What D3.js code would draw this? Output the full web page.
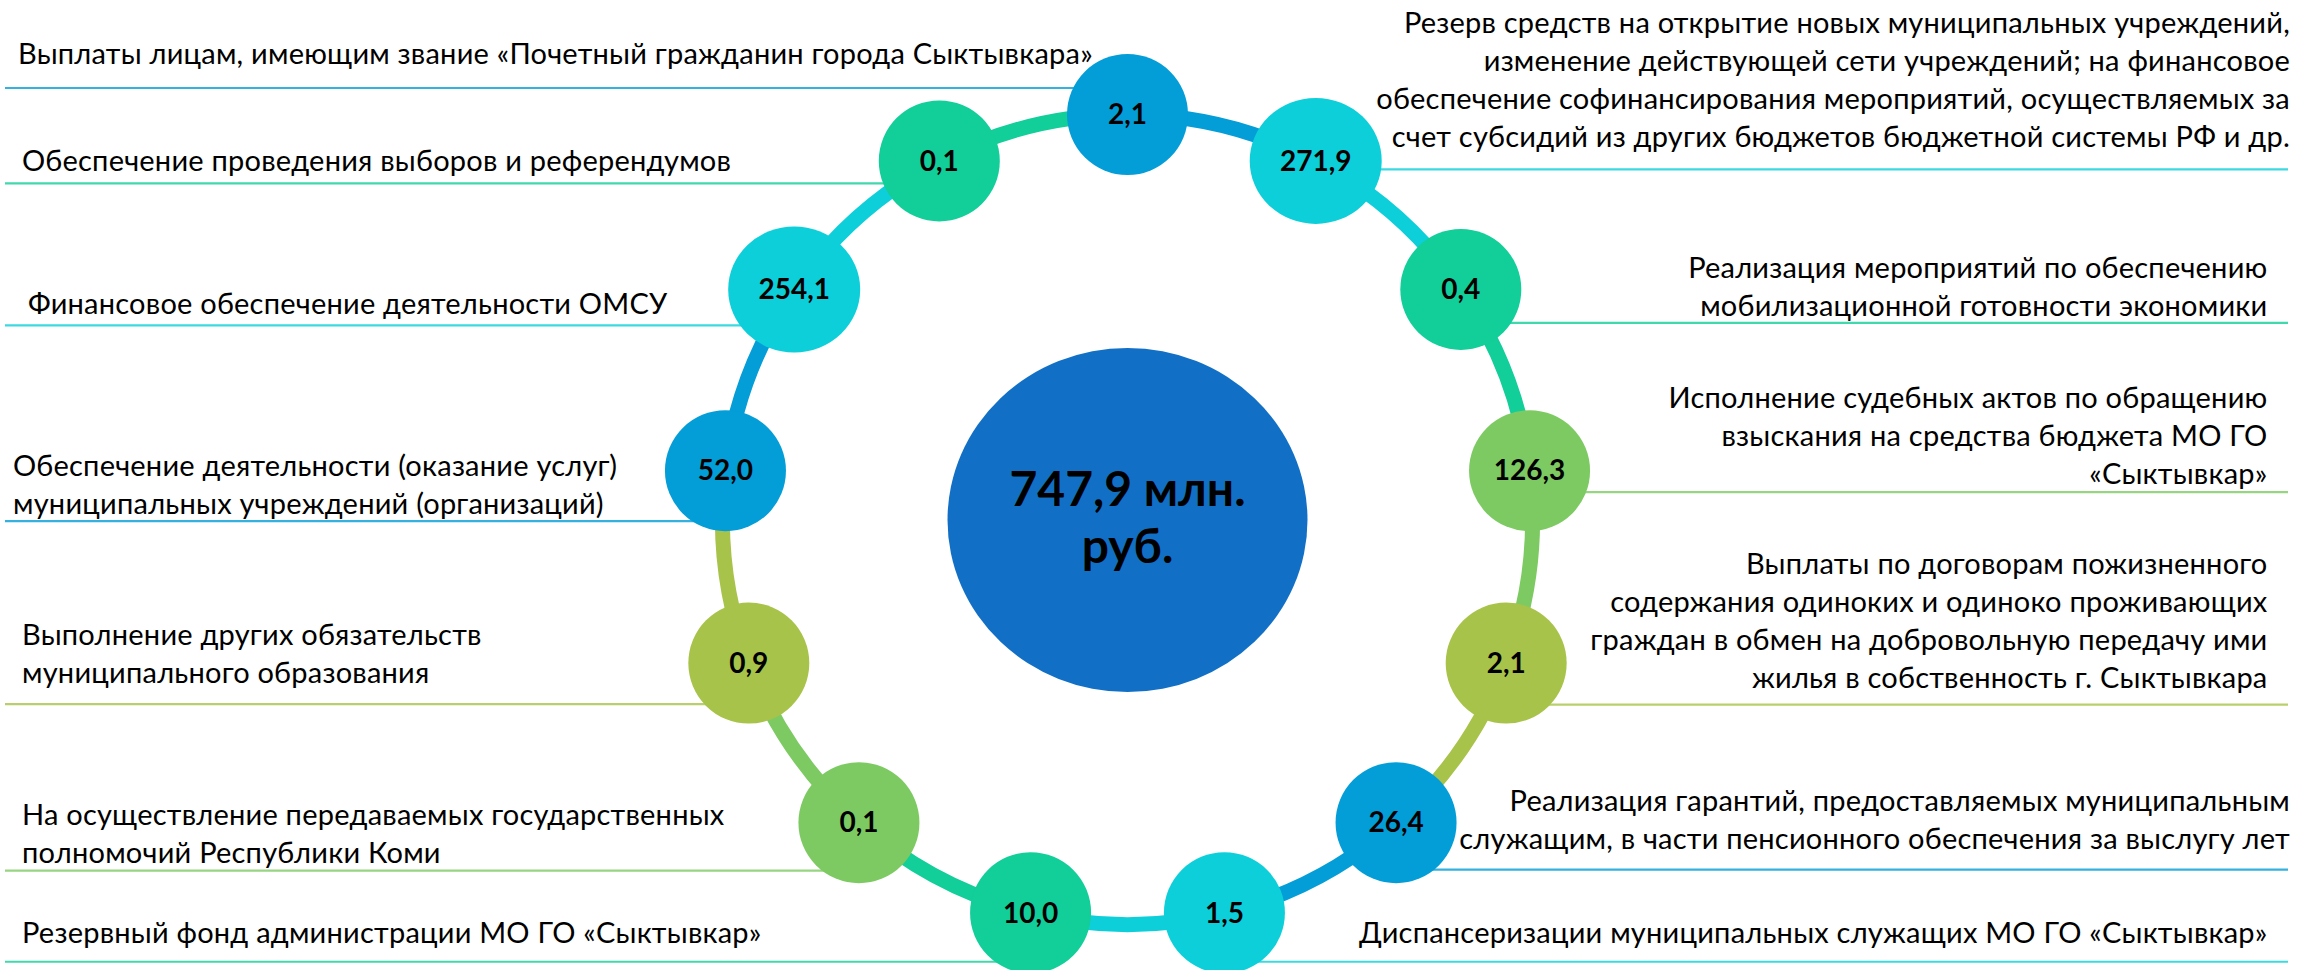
<!DOCTYPE html>
<html lang="ru">
<head>
<meta charset="utf-8">
<script src="https://cdn.jsdelivr.net/npm/d3@7/dist/d3.min.js"></script>
<style>
  html, body { margin: 0; padding: 0; background: #fff; }
  svg { display: block; font-family: Lato, "Open Sans", sans-serif; }
</style>
</head>
<body>
<div id="chart"></div>
<script>
// expense items, clockwise starting from the top node (млн. руб.)
const categories = [
  "Выплаты лицам, имеющим звание «Почетный гражданин города Сыктывкара»",
  "Резерв средств на открытие новых муниципальных учреждений,\nизменение действующей сети учреждений; на финансовое\nобеспечение софинансирования мероприятий, осуществляемых за\nсчет субсидий из других бюджетов бюджетной системы РФ и др.",
  "Реализация мероприятий по обеспечению\nмобилизационной готовности экономики",
  "Исполнение судебных актов по обращению\nвзыскания на средства бюджета МО ГО\n«Сыктывкар»",
  "Выплаты по договорам пожизненного\nсодержания одиноких и одиноко проживающих\nграждан в обмен на добровольную передачу ими\nжилья в собственность г. Сыктывкара",
  "Реализация гарантий, предоставляемых муниципальным\nслужащим, в части пенсионного обеспечения за выслугу лет",
  "Диспансеризации муниципальных служащих МО ГО «Сыктывкар»",
  "Резервный фонд администрации МО ГО «Сыктывкар»",
  "На осуществление передаваемых государственных\nполномочий Республики Коми",
  "Выполнение других обязательств\nмуниципального образования",
  "Обеспечение деятельности (оказание услуг)\nмуниципальных учреждений (организаций)",
  "Финансовое обеспечение деятельности ОМСУ",
  "Обеспечение проведения выборов и референдумов"
];
const values = [2.1, 271.9, 0.4, 126.3, 2.1, 26.4, 1.5, 10.0, 0.1, 0.9, 52.0, 254.1, 0.1];
const totalUnit = ["млн.", "руб."];

// colours repeat round the ring
const palette = ["#039dd8", "#0dcfda", "#12ce99", "#7dca63", "#a8c34a"];
const centerColor = "#1170c6";

const width = 2318, height = 970;
const cx = 1127.5, cy = 519.5, ringR = 405;

// hand placed callouts: [underline offset from node, gap text->underline, inset from page edge]
const labelNudge = [
  [-26.5, 24, 18], [8.5, 22.5, 28], [33.5, 6.5, 50.5], [21.5, 8, 50.5],
  [41.5, 16.5, 50.5], [47, 20.5, 28], [49, 18.5, 50.5], [49, 19, 22],
  [48, 8, 22], [41, 21, 22], [50.5, 7, 13], [36, 11, 28], [22.5, 12, 22]
];
const lineStep = 38;

const ru = d3.formatLocale({ decimal: ",", thousands: "\u00a0", grouping: [3], currency: ["", ""] });
const fmt = ru.format(".1f");

const nodes = values.map((v, i) => ({ i, value: v, label: categories[i] }));
const angle = d3.scaleLinear().domain([0, nodes.length]).range([0, 2 * Math.PI]);
const color = d3.scaleOrdinal().domain(d3.range(palette.length)).range(palette);
const rx = d3.scaleThreshold().domain([200]).range([60.5, 66]);
const ry = d3.scaleThreshold().domain([200]).range([60.5, 63]);

nodes.forEach(d => {
  d.x = cx + ringR * Math.sin(angle(d.i));
  d.y = cy - ringR * Math.cos(angle(d.i));
  d.color = color(d.i % palette.length);
  d.left = d.x <= cx;
});

const svg = d3.select('#chart')
  .append('svg')
  .attr('width', width)
  .attr('height', height);

// underlines of the callouts
svg.append('g')
  .selectAll('line')
  .data(nodes)
  .join('line')
  .attr('x1', d => d.left ? 5 : d.x)
  .attr('x2', d => d.left ? d.x : width - 30)
  .attr('y1', d => d.y + labelNudge[d.i][0])
  .attr('y2', d => d.y + labelNudge[d.i][0])
  .attr('stroke', d => d3.interpolateRgb(d.color, '#fff')(0.2))
  .attr('stroke-width', 2.2);

// callout texts
const labels = svg.append('g')
  .attr('font-size', 29)
  .attr('letter-spacing', 0.22)
  .attr('fill', '#000')
  .selectAll('text')
  .data(nodes)
  .join('text')
  .attr('text-anchor', d => d.left ? 'start' : 'end')
  .attr('x', d => d.left ? labelNudge[d.i][2] : width - labelNudge[d.i][2]);

labels.each(function (d) {
  const rows = d.label.split('\n');
  const last = d.y + labelNudge[d.i][0] - labelNudge[d.i][1];
  d3.select(this).selectAll('tspan')
    .data(rows)
    .join('tspan')
    .attr('x', d.left ? labelNudge[d.i][2] : width - labelNudge[d.i][2])
    .attr('y', (r, k) => last - (rows.length - 1 - k) * lineStep)
    .text(r => r);
});

// ring segments, each takes the colour of the node it leaves from
const arc = d3.arc()
  .innerRadius(ringR - 7.5)
  .outerRadius(ringR + 7.5)
  .startAngle(d => angle(d.i))
  .endAngle(d => angle(d.i + 1));

svg.append('g')
  .attr('transform', `translate(${cx},${cy})`)
  .selectAll('path')
  .data(nodes)
  .join('path')
  .attr('d', arc)
  .attr('fill', d => d.color);

// total in the middle
const total = d3.sum(values);
svg.append('ellipse')
  .attr('cx', cx)
  .attr('cy', cy + 0.5)
  .attr('rx', 180)
  .attr('ry', 172)
  .attr('fill', centerColor);

svg.append('text')
  .attr('text-anchor', 'middle')
  .attr('font-size', 48)
  .attr('font-weight', 700)
  .selectAll('tspan')
  .data([`${fmt(total)} ${totalUnit[0]}`, totalUnit[1]])
  .join('tspan')
  .attr('x', cx)
  .attr('y', (t, k) => cy - 14 + k * 57)
  .text(t => t);

// value nodes
const node = svg.append('g')
  .selectAll('g')
  .data(nodes)
  .join('g')
  .attr('transform', d => `translate(${d.x},${d.y})`);

node.append('ellipse')
  .attr('rx', d => rx(d.value))
  .attr('ry', d => ry(d.value))
  .attr('fill', d => d.color);

node.append('text')
  .attr('text-anchor', 'middle')
  .attr('dy', '0.35em')
  .attr('font-size', 28)
  .attr('font-weight', 700)
  .text(d => fmt(d.value));
</script>
</body>
</html>
